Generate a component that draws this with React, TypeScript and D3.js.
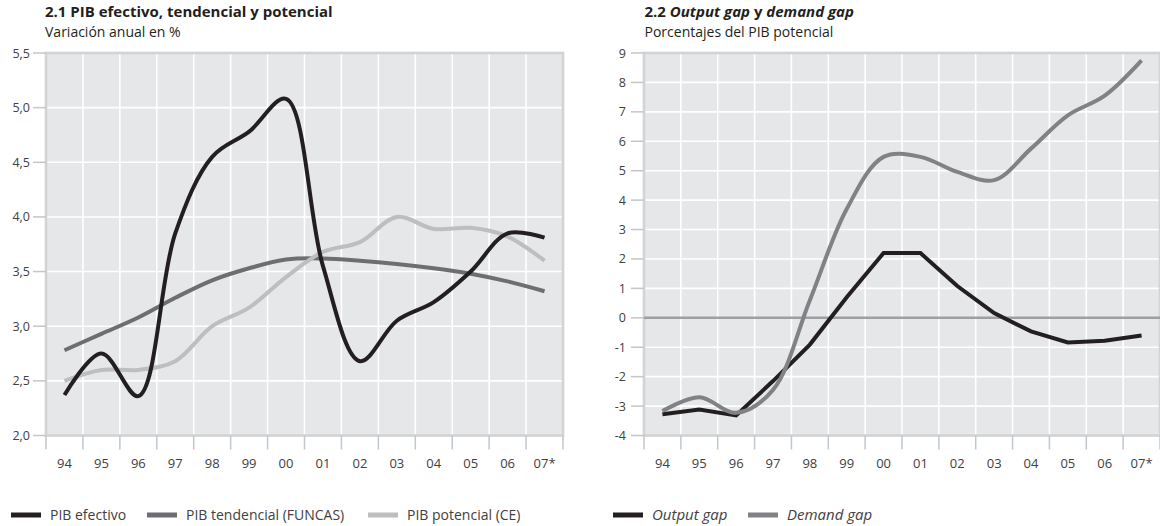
import React from "react";
import * as d3 from "d3";

const years = ["94", "95", "96", "97", "98", "99", "00", "01", "02", "03", "04", "05", "06", "07*"];

// Chart 2.1 — annual % change
const pibEfectivo = [2.37, 2.75, 2.36, 3.85, 4.55, 4.78, 5.08, 3.55, 2.68, 3.05, 3.22, 3.5, 3.85, 3.81];
const pibTendencial = [2.78, 2.93, 3.08, 3.26, 3.42, 3.53, 3.61, 3.62, 3.6, 3.57, 3.53, 3.48, 3.41, 3.32];
const pibPotencial = [2.5, 2.6, 2.6, 2.68, 3.0, 3.17, 3.45, 3.68, 3.77, 4.0, 3.89, 3.9, 3.82, 3.6];
const leftTicks = [2.0, 2.5, 3.0, 3.5, 4.0, 4.5, 5.0, 5.5];

// Chart 2.2 — % of potential GDP
const outputGap = [-3.28, -3.12, -3.32, -2.15, -0.91, 0.7, 2.2, 2.2, 1.08, 0.16, -0.46, -0.84, -0.78, -0.6];
const demandGap = [-3.17, -2.7, -3.23, -2.45, 0.6, 3.7, 5.47, 5.47, 4.96, 4.68, 5.75, 6.88, 7.55, 8.75];
const rightTicks = [-4, -3, -2, -1, 0, 1, 2, 3, 4, 5, 6, 7, 8, 9];

const FONT = "'Open Sans', 'Noto Sans', sans-serif";
const BG = "#e6e7e8";
const FRAME = "#d1d3d4";
const TICK = "#c4c6c8";
const TXT = "#414042";

type Series = { values: number[]; color: string; curve: any };

function Panel(props: {
  x0: number; x1: number; y0: number; y1: number;
  domain: [number, number]; ticks: number[]; fmt: (v: number) => string;
  series: Series[]; labelRight: number; zero?: boolean;
}) {
  const { x0, x1, y0, y1, domain, ticks, fmt, series, labelRight, zero } = props;
  const x = d3.scaleBand<string>().domain(years).range([x0, x1]).padding(0);
  const y = d3.scaleLinear().domain(domain).range([y1, y0]);
  const bw = x.bandwidth();
  const bounds = years.map((yr) => x(yr) as number).concat([x1]);
  return (
    <g>
      <rect x={x0} y={y0} width={x1 - x0} height={y1 - y0} fill={BG} />
      {bounds.slice(1, -1).map((bx, i) => (
        <line key={"vg" + i} x1={bx} x2={bx} y1={y0} y2={y1} stroke="#fff" strokeWidth={1.6} />
      ))}
      {ticks.map((t, i) => (
        <line key={"hg" + i} x1={x0} x2={x1} y1={y(t)} y2={y(t)} stroke="#fff" strokeWidth={1.6} />
      ))}
      <rect x={x0} y={y0} width={x1 - x0} height={y1 - y0} fill="none" stroke={FRAME} strokeWidth={2.6} />
      {zero && <line x1={x0} x2={x1} y1={y(0)} y2={y(0)} stroke="#9d9fa2" strokeWidth={2.4} />}
      {bounds.map((bx, i) => (
        <line key={"xt" + i} x1={bx} x2={bx} y1={y1} y2={y1 + 14} stroke={TICK} strokeWidth={1.5} />
      ))}
      {ticks.map((t, i) => (
        <line key={"yt" + i} x1={x0 - 13} x2={x0} y1={y(t)} y2={y(t)} stroke={TICK} strokeWidth={1.5} />
      ))}
      {ticks.map((t, i) => (
        <text key={"yl" + i} x={labelRight} y={y(t)} dy="0.36em" textAnchor="end"
          fontFamily={FONT} fontSize={12.5} fill={TXT}>{fmt(t)}</text>
      ))}
      {years.map((yr, i) => (
        <text key={"xl" + i} x={(x(yr) as number) + bw / 2} y={y1 + 32} textAnchor="middle"
          fontFamily={FONT} fontSize={13} fill={TXT}>{yr}</text>
      ))}
      {series.map((s, i) => {
        const line = d3.line<number>()
          .x((_, j) => (x(years[j]) as number) + bw / 2)
          .y((v) => y(v))
          .curve(s.curve);
        return <path key={"s" + i} d={line(s.values) || ""} fill="none" stroke={s.color} strokeWidth={4} />;
      })}
    </g>
  );
}

function Legend(props: { items: { label: string; color: string; x: number; italic?: boolean }[]; y: number }) {
  return (
    <g>
      {props.items.map((it, i) => (
        <g key={i}>
          <rect x={it.x} y={props.y - 2.5} width={30} height={5} fill={it.color} />
          <text x={it.x + 39} y={props.y} dy="0.36em" fontFamily={FONT} fontSize={it.italic ? 15 : 14} fill={TXT}
            fontStyle={it.italic ? "italic" : "normal"}>{it.label}</text>
        </g>
      ))}
    </g>
  );
}

export default function App() {
  const comma = (v: number) => v.toFixed(1).replace(".", ",");
  return (
    <svg width={1160} height={526} style={{ position: "absolute", left: 0, top: 0, background: "#fff" }}>
      <text x={45} y={17} fontFamily={FONT} fontSize={15} fontWeight="bold" fill="#231f20">
        2.1 PIB efectivo, tendencial y potencial
      </text>
      <text x={45} y={36.5} fontFamily={FONT} fontSize={14} fill="#231f20">Variación anual en %</text>

      <text x={644.5} y={17} fontFamily={FONT} fontSize={15} fontWeight="bold" fill="#231f20">
        <tspan>2.2 </tspan>
        <tspan fontStyle="italic">Output gap</tspan>
        <tspan> y </tspan>
        <tspan fontStyle="italic">demand gap</tspan>
      </text>
      <text x={644.5} y={36.5} fontFamily={FONT} fontSize={14} fill="#231f20">Porcentajes del PIB potencial</text>

      <Panel x0={46} x1={563} y0={53} y1={435.5} domain={[2, 5.5]} ticks={leftTicks} fmt={comma}
        labelRight={30} series={[
          { values: pibTendencial, color: "#6d6e71", curve: d3.curveCatmullRom.alpha(0.5) },
          { values: pibPotencial, color: "#bcbec0", curve: d3.curveCatmullRom.alpha(0.5) },
          { values: pibEfectivo, color: "#231f20", curve: d3.curveCatmullRom.alpha(0.5) },
        ]} />

      <Panel x0={644} x1={1160} y0={53} y1={435.5} domain={[-4, 9]} ticks={rightTicks}
        fmt={(v) => String(v)} labelRight={626} zero series={[
          { values: outputGap, color: "#231f20", curve: d3.curveLinear },
          { values: demandGap, color: "#808285", curve: d3.curveCatmullRom.alpha(0.5) },
        ]} />

      <Legend y={515} items={[
        { label: "PIB efectivo", color: "#231f20", x: 11 },
        { label: "PIB tendencial (FUNCAS)", color: "#6d6e71", x: 147 },
        { label: "PIB potencial (CE)", color: "#bcbec0", x: 368 },
      ]} />
      <Legend y={515} items={[
        { label: "Output gap", color: "#231f20", x: 613, italic: true },
        { label: "Demand gap", color: "#808285", x: 748, italic: true },
      ]} />
    </svg>
  );
}
